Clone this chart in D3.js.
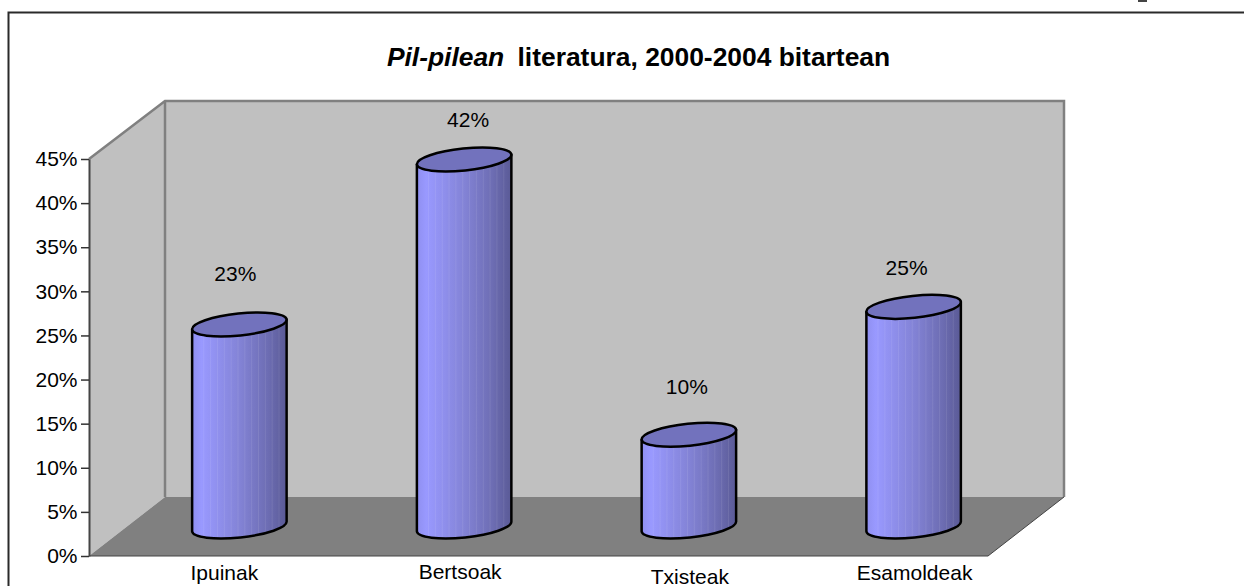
<!DOCTYPE html>
<html><head><meta charset="utf-8">
<script src="https://cdn.jsdelivr.net/npm/d3@7/dist/d3.min.js"></script>
<style>html,body{margin:0;padding:0;background:#fff;overflow:hidden}svg{display:block}text{font-family:"Liberation Sans",Arial,sans-serif;fill:#000}</style>
</head><body><svg id="c" width="1244" height="586"></svg>
<script>
const categories = ["Ipuinak","Bertsoak","Txisteak","Esamoldeak"];
const values = [22.9,41.6,10.4,24.9];
const valueLabels = ["23%","42%","10%","25%"];
const yTicks = [0,5,10,15,20,25,30,35,40,45];

// layout (not data)
const x0=89,x1=988,yBase=556,yTop=159,dx=76,dy=-59;
const labelNudge=[[-4,-51],[4,-40],[-2,-48],[-7,-39]];
const catNudge=[[-15,0],[-4,-1],[1,4],[1,0]];
const rx=47.5, ry=11, tilt=-6, fs=21;

const svg=d3.select("#c");
const x=d3.scaleBand().domain(categories).range([x0,x1]);
const y=d3.scaleLinear().domain([0,45]).range([yBase,yTop]);
const defs=svg.append("defs");
const g=defs.append("linearGradient").attr("id","cyl");
[[0,"#8f8ff0"],[.1,"#9999ff"],[.5,"#8383d6"],[.8,"#6d6db3"],[1,"#5a5a96"]].forEach(s=>g.append("stop").attr("offset",s[0]).attr("stop-color",s[1]));

// frame
svg.append("path").attr("d","M8.5,586V12.5H1244").attr("fill","none").attr("stroke","#2a2a2a").attr("stroke-width",2);
svg.append("path").attr("d","M1138,1H1147").attr("stroke","#444").attr("stroke-width",2);

// walls
const wallBot=yBase+dy, wallTop=wallBot-396;
svg.append("path").attr("d",`M${x0+dx},${wallTop}H${x1+dx}V${wallBot}H${x0+dx}Z`).attr("fill","#c0c0c0");
svg.append("path").attr("d",`M${x0},${yTop}L${x0+dx},${wallTop}V${wallBot}L${x0},${yBase}Z`).attr("fill","#c0c0c0");
svg.append("path").attr("d",`M${x0},${yBase}L${x0+dx},${wallBot}H${x1+dx}L${x1},${yBase}Z`).attr("fill","#808080");
svg.append("path").attr("d",`M${x0},${yTop}L${x0+dx},${wallTop}H${x1+dx}V${wallBot}`).attr("fill","none").attr("stroke","#808080").attr("stroke-width",2.5);
svg.append("path").attr("d",`M${x0+dx},${wallTop}V${wallBot}`).attr("stroke","#808080").attr("stroke-width",2.5);
svg.append("path").attr("d",`M${x0},${yBase}H${x1}L${x1+dx},${wallBot}`).attr("fill","none").attr("stroke","#444").attr("stroke-width",1);

// axis
const ax=svg.append("g").attr("transform",`translate(${x0},0)`).call(d3.axisLeft(y).tickValues(yTicks).tickFormat(d=>d+"%").tickSize(8).tickPadding(3.5).tickSizeOuter(0));
ax.selectAll("text").style("font-size",fs+"px").attr("fill","#000");
ax.selectAll("line").attr("stroke","#333").attr("stroke-width",1.5);
ax.select(".domain").attr("stroke","#444").attr("stroke-width",2);

// cylinders
const rad=tilt*Math.PI/180, ex=rx*Math.cos(rad), ey=rx*Math.sin(rad);
categories.forEach((c,i)=>{
  const cx=x(c)+x.bandwidth()/2+dx/2, base=y(0)+dy/2, top=base-(y(0)-y(values[i]));
  const L=[cx-ex,top-ey],R=[cx+ex,top+ey],Lb=[cx-ex,base-ey],Rb=[cx+ex,base+ey];
  const G=svg.append("g");
  const id="cp"+i;
  const body=`M${L}L${Lb}A${rx},${ry},${tilt},0,0,${Rb}L${R}Z`;
  defs.append("clipPath").attr("id",id).append("path").attr("d",body);
  G.append("path").attr("d",body).attr("fill","url(#cyl)");
  G.append("g").attr("clip-path",`url(#${id})`).selectAll("rect").data(d3.range(.12,1,.072)).join("rect")
    .attr("x",d=>cx-rx+d*2*rx).attr("width",1).attr("y",top-20).attr("height",base-top+40).attr("fill","#fff").attr("opacity",.09);
  G.append("path").attr("d",body).attr("fill","none").attr("stroke","#000").attr("stroke-width",2.5).attr("stroke-linejoin","round");
  G.append("ellipse").attr("rx",rx).attr("ry",ry).attr("transform",`translate(${cx},${top}) rotate(${tilt})`)
    .attr("fill","#7272bd").attr("stroke","#000").attr("stroke-width",2.5);
  svg.append("text").attr("x",cx+labelNudge[i][0]).attr("y",top+labelNudge[i][1]).attr("dy","0.35em").attr("text-anchor","middle").style("font-size",fs+"px").text(valueLabels[i]);
  svg.append("text").attr("x",cx+catNudge[i][0]).attr("y",573+catNudge[i][1]).attr("dy","0.35em").attr("text-anchor","middle").style("font-size",fs+"px").text(c);
});

// title
const t=svg.append("text").attr("x",638.5).attr("y",66).attr("text-anchor","middle").style("font-size","26.4px").style("font-weight","bold").attr("xml:space","preserve");
t.append("tspan").style("font-style","italic").text("Pil-pilean");
t.append("tspan").attr("dx","6").text(" literatura, 2000-2004 bitartean");
</script></body></html>
